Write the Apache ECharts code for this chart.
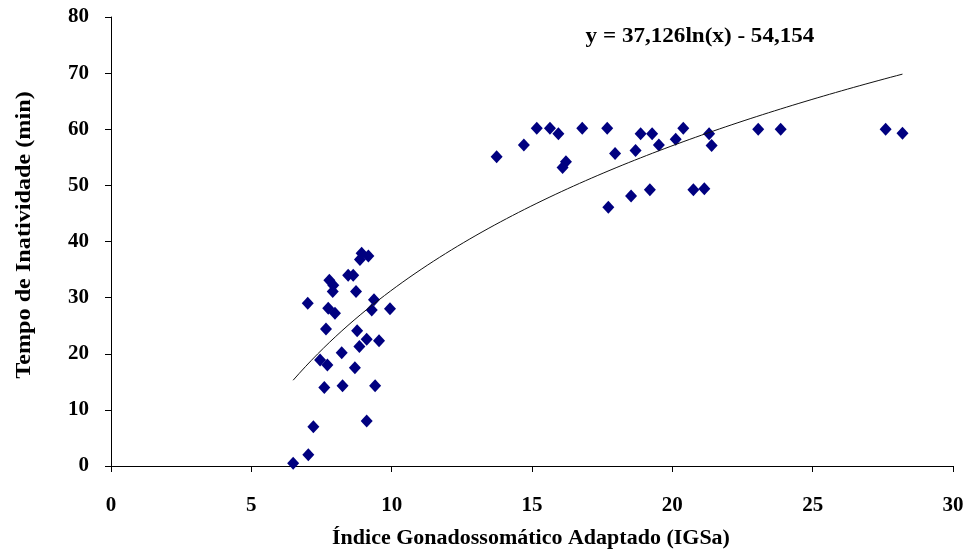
<!DOCTYPE html>
<html>
<head>
<meta charset="utf-8">
<script src="https://cdn.jsdelivr.net/npm/echarts@6/dist/echarts.min.js"></script>
<style>
  html, body { margin: 0; padding: 0; background: #fff; }
  #chart { width: 968px; height: 553px; }
</style>
</head>
<body>
<div id="chart"></div>
<script>
// IGSa (x) and inactivity time in minutes (y) for each fish
const igsa = [
  8.93, 9.17, 8.87, 7.78, 7.92, 7.90, 8.45, 8.63, 8.73, 7.01,
  7.74, 7.98, 9.37, 9.29, 9.94, 7.66, 8.77, 9.11, 8.85, 9.55,
  8.22, 7.45, 7.71, 8.69, 7.60, 8.25, 9.41, 9.11, 7.21, 7.03,
  6.49,
  13.74, 14.71, 15.17, 15.64, 15.94, 16.79, 16.21, 16.09, 17.68, 17.96,
  17.72, 18.87, 19.28, 18.69, 19.52, 18.53, 19.20, 20.39, 20.12, 21.31,
  21.40, 20.75, 21.14, 23.06, 23.86, 27.60, 28.20
];
const inatividade = [
  37.9, 37.4, 36.8, 33.1, 32.2, 31.1, 34.0, 34.0, 31.1, 29.0,
  28.1, 27.2, 29.6, 27.8, 28.0, 24.4, 24.1, 22.6, 21.3, 22.3,
  20.2, 18.9, 18.0, 17.5, 14.0, 14.3, 14.3, 8.0, 7.0, 2.0,
  0.5,
  55.1, 57.2, 60.2, 60.2, 59.2, 60.2, 54.2, 53.2, 60.2, 55.7,
  46.1, 59.2, 59.2, 56.2, 57.2, 48.1, 49.2, 60.2, 58.2, 59.2,
  57.1, 49.2, 49.4, 60.0, 60.0, 60.0, 59.3
];

// Logarithmic fit y = a*ln(x) + b, as printed on the chart
const fitA = 37.126;
const fitB = -54.154;
const fitLabel = 'y = 37,126ln(x) - 54,154';

const xTicks = [0, 5, 10, 15, 20, 25, 30];
const yTicks = [0, 10, 20, 30, 40, 50, 60, 70, 80];
const xName = 'Índice Gonadossomático Adaptado (IGSa)';
const yName = 'Tempo de Inatividade (min)';

const points = igsa.map((x, i) => [x, inatividade[i]]);
const xMinData = Math.min(...igsa);
const xMaxData = Math.max(...igsa);
const fitLine = [];
for (let k = 0; k <= 100; k++) {
  const x = xMinData + (xMaxData - xMinData) * k / 100;
  fitLine.push([x, fitA * Math.log(x) + fitB]);
}

const serif = '"Liberation Serif", "Times New Roman", serif';
const wide = 1.1; // slightly widened serif lettering

const chart = echarts.init(document.getElementById('chart'), null, { renderer: 'canvas' });
chart.setOption({
  backgroundColor: '#ffffff',
  animation: false,
  grid: { left: 111, right: 15, top: 17, bottom: 87, containLabel: false, outerBoundsMode: 'none' },
  xAxis: {
    type: 'value',
    min: xTicks[0], max: xTicks[xTicks.length - 1], interval: 5,
    axisLine: { onZero: false, lineStyle: { color: '#000', width: 1 } },
    axisTick: { show: true, inside: false, length: 6, lineStyle: { color: '#000' } },
    axisLabel: { margin: 29, fontFamily: serif, fontWeight: 'bold', fontSize: 21, color: '#000' },
    splitLine: { show: false }
  },
  yAxis: {
    type: 'value',
    min: yTicks[0], max: yTicks[yTicks.length - 1], interval: 10,
    axisLine: { show: true, lineStyle: { color: '#000', width: 1 } },
    axisTick: { show: true, inside: false, length: 6, lineStyle: { color: '#000' } },
    axisLabel: { margin: 22, fontFamily: serif, fontWeight: 'bold', fontSize: 21, color: '#000' },
    splitLine: { show: false }
  },
  graphic: [
    {
      type: 'text', x: 700, y: 37, scaleX: wide,
      style: { text: fitLabel, fontFamily: serif, fontWeight: 'bold', fontSize: 21, fill: '#000',
               textAlign: 'center', textVerticalAlign: 'middle' }
    },
    {
      type: 'text', x: 531, y: 539, scaleX: wide,
      style: { text: xName, fontFamily: serif, fontWeight: 'bold', fontSize: 20, fill: '#000',
               textAlign: 'center', textVerticalAlign: 'middle' }
    },
    {
      type: 'text', x: 24, y: 235, rotation: Math.PI / 2, scaleX: wide,
      style: { text: yName, fontFamily: serif, fontWeight: 'bold', fontSize: 22, fill: '#000',
               textAlign: 'center', textVerticalAlign: 'middle' }
    }
  ],
  series: [
    {
      type: 'line',
      data: fitLine,
      showSymbol: false,
      smooth: false,
      lineStyle: { color: '#111', width: 1 },
      z: 3
    },
    {
      type: 'scatter',
      data: points,
      symbol: 'diamond',
      symbolSize: [12, 13],
      itemStyle: { color: '#000080', opacity: 1 },
      z: 2
    }
  ]
});
</script>
</body>
</html>
